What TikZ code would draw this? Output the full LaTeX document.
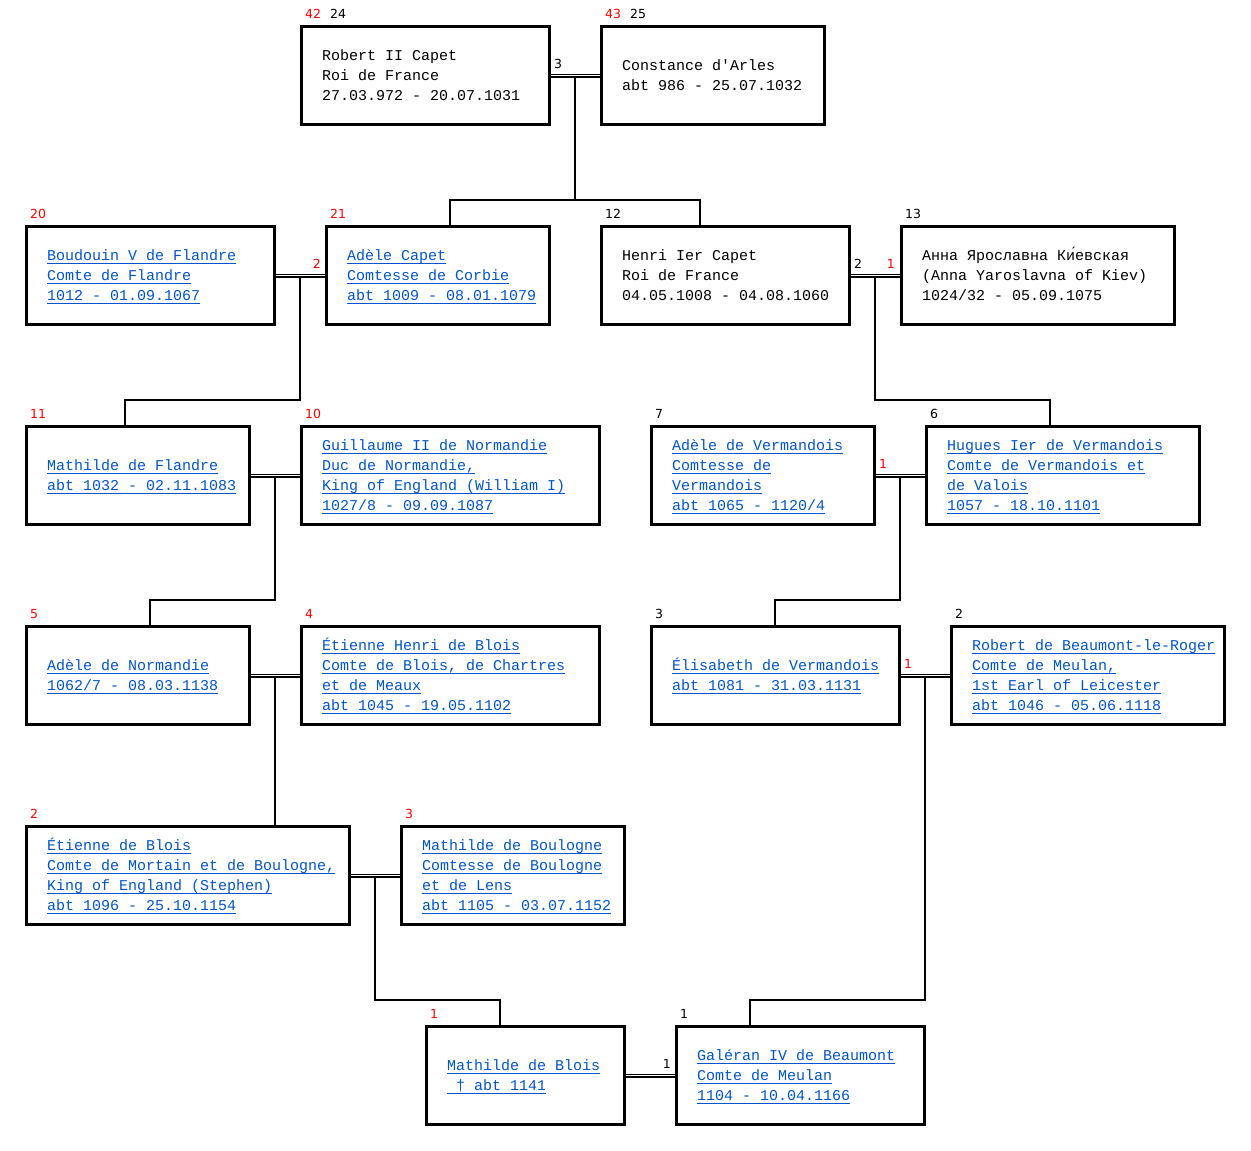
\documentclass[tikz,border=0pt]{standalone}
\usepackage{fontspec}
\usetikzlibrary{calc}
\newfontfamily\pmono{Liberation Mono}[Ligatures=TeXOff]
\newfontfamily\plab{DejaVu Sans}
\definecolor{lnk}{HTML}{0055CC}
\definecolor{lred}{HTML}{FF0000}
\tikzset{
 pbox/.style={draw=black, line width=3pt, inner sep=0pt, outer sep=0pt, rectangle},
 ptxt/.style={font=\pmono\fontsize{15}{18}\selectfont, inner sep=0pt, outer sep=0pt, anchor=base west},
 plink/.style={ptxt, text=lnk},
 ulin/.style={draw=lnk, line width=1.1pt},
 conn/.style={draw=black, line width=2pt},
 dbl/.style={draw=black, line width=1.2pt},
 nlab/.style={font=\plab\fontsize{12.5}{14}\selectfont, inner sep=0pt, anchor=base west},
 nred/.style={nlab, text=lred},
 nblk/.style={nlab, text=black},
}
% person box: name x1 y1 x2 y2
\newcommand\pers[5]{\node[pbox, minimum width=#4-#2-2, minimum height=#5-#3-2] (#1) at ({(#2+#4)/2+0.5},{(#3+#5)/2+0.5}) {};}
% underlined link line
\newcommand\lk[3]{\node[plink] (#1) at (#2) {#3};
 \draw[ulin] ($(#1.base west)+(0,3.2)$) -- ($(#1.base east)+(0,3.2)$);}
% marriage double line between two boxes at height y
\newcommand\marr[3]{\draw[dbl] (#1.east |- 0,#3-0.2) -- (#2.west |- 0,#3-0.2);
 \draw[dbl] (#1.east |- 0,#3+2) -- (#2.west |- 0,#3+2);}
\begin{document}
\begin{tikzpicture}[x=1pt,y=-1pt]
\useasboundingbox (0,0) rectangle (1251,1151);
\fill[white] (0,0) rectangle (1251,1151);

% ---------- Row 0 ----------
\pers{robert}{300}{25}{550}{125}
\node[nred] (robert-a) at (305,18) {42};
\node[nblk] (robert-b) at (330,18) {24};
\node[ptxt] (robert-1) at (322,60.5) {Robert II Capet};
\node[ptxt] (robert-2) at (322,80.5) {Roi de France};
\node[ptxt] (robert-3) at (322,100.5) {27.03.972 - 20.07.1031};

\pers{constance}{600}{25}{825}{125}
\node[nred] (constance-a) at (605,18) {43};
\node[nblk] (constance-b) at (630,18) {25};
\node[ptxt] (constance-1) at (622,70.5) {Constance d'Arles};
\node[ptxt] (constance-2) at (622,90.5) {abt 986 - 25.07.1032};

% ---------- Row 1 ----------
\pers{boudouin}{25}{225}{275}{325}
\node[nred] (boudouin-a) at (30,218) {20};
\lk{boudouin-1}{47,260.5}{Boudouin V de Flandre}
\lk{boudouin-2}{47,280.5}{Comte de Flandre}
\lk{boudouin-3}{47,300.5}{1012 - 01.09.1067}

\pers{adelecapet}{325}{225}{550}{325}
\node[nred] (adelecapet-a) at (330,218) {21};
\lk{adelecapet-1}{347,260.5}{Adèle Capet\ }
\lk{adelecapet-2}{347,280.5}{Comtesse de Corbie}
\lk{adelecapet-3}{347,300.5}{abt 1009 - 08.01.1079}

\pers{henri}{600}{225}{850}{325}
\node[nblk] (henri-a) at (605,218) {12};
\node[ptxt] (henri-1) at (622,260.5) {Henri Ier Capet};
\node[ptxt] (henri-2) at (622,280.5) {Roi de France};
\node[ptxt] (henri-3) at (622,300.5) {04.05.1008 - 04.08.1060};

\pers{anna}{900}{225}{1175}{325}
\node[nblk] (anna-a) at (905,218) {13};
\node[ptxt] (anna-1) at (922,260.5) {Анна Ярославна Ки́евская};
\node[ptxt] (anna-2) at (922,280.5) {(Anna Yaroslavna of Kiev)};
\node[ptxt] (anna-3) at (922,300.5) {1024/32 - 05.09.1075};

% ---------- Row 2 ----------
\pers{mathildef}{25}{425}{250}{525}
\node[nred] (mathildef-a) at (30,418) {11};
\lk{mathildef-1}{47,470.5}{Mathilde de Flandre}
\lk{mathildef-2}{47,490.5}{abt 1032 - 02.11.1083}

\pers{guillaume}{300}{425}{600}{525}
\node[nred] (guillaume-a) at (305,418) {10};
\lk{guillaume-1}{322,450.5}{Guillaume II de Normandie}
\lk{guillaume-2}{322,470.5}{Duc de Normandie,}
\lk{guillaume-3}{322,490.5}{King of England (William I)}
\lk{guillaume-4}{322,510.5}{1027/8 - 09.09.1087}

\pers{adelev}{650}{425}{875}{525}
\node[nblk] (adelev-a) at (655,418) {7};
\lk{adelev-1}{672,450.5}{Adèle de Vermandois\ }
\lk{adelev-2}{672,470.5}{Comtesse de\ }
\lk{adelev-3}{672,490.5}{Vermandois}
\lk{adelev-4}{672,510.5}{abt 1065 - 1120/4}

\pers{hugues}{925}{425}{1200}{525}
\node[nblk] (hugues-a) at (930,418) {6};
\lk{hugues-1}{947,450.5}{Hugues Ier de Vermandois}
\lk{hugues-2}{947,470.5}{Comte de Vermandois et}
\lk{hugues-3}{947,490.5}{de Valois}
\lk{hugues-4}{947,510.5}{1057 - 18.10.1101}

% ---------- Row 3 ----------
\pers{adelen}{25}{625}{250}{725}
\node[nred] (adelen-a) at (30,618) {5};
\lk{adelen-1}{47,670.5}{Adèle de Normandie}
\lk{adelen-2}{47,690.5}{1062/7 - 08.03.1138}

\pers{etiennehenri}{300}{625}{600}{725}
\node[nred] (etiennehenri-a) at (305,618) {4};
\lk{etiennehenri-1}{322,650.5}{Étienne Henri de Blois}
\lk{etiennehenri-2}{322,670.5}{Comte de Blois, de Chartres}
\lk{etiennehenri-3}{322,690.5}{et de Meaux}
\lk{etiennehenri-4}{322,710.5}{abt 1045 - 19.05.1102}

\pers{elisabeth}{650}{625}{900}{725}
\node[nblk] (elisabeth-a) at (655,618) {3};
\lk{elisabeth-1}{672,670.5}{Élisabeth de Vermandois}
\lk{elisabeth-2}{672,690.5}{abt 1081 - 31.03.1131}

\pers{robertb}{950}{625}{1225}{725}
\node[nblk] (robertb-a) at (955,618) {2};
\lk{robertb-1}{972,650.5}{Robert de Beaumont-le-Roger}
\lk{robertb-2}{972,670.5}{Comte de Meulan,}
\lk{robertb-3}{972,690.5}{1st Earl of Leicester}
\lk{robertb-4}{972,710.5}{abt 1046 - 05.06.1118}

% ---------- Row 4 ----------
\pers{etienne}{25}{825}{350}{925}
\node[nred] (etienne-a) at (30,818) {2};
\lk{etienne-1}{47,850.5}{Étienne de Blois}
\lk{etienne-2}{47,870.5}{Comte de Mortain et de Boulogne,}
\lk{etienne-3}{47,890.5}{King of England (Stephen)}
\lk{etienne-4}{47,910.5}{abt 1096 - 25.10.1154}

\pers{mathildeb}{400}{825}{625}{925}
\node[nred] (mathildeb-a) at (405,818) {3};
\lk{mathildeb-1}{422,850.5}{Mathilde de Boulogne}
\lk{mathildeb-2}{422,870.5}{Comtesse de Boulogne}
\lk{mathildeb-3}{422,890.5}{et de Lens}
\lk{mathildeb-4}{422,910.5}{abt 1105 - 03.07.1152}

% ---------- Row 5 ----------
\pers{mathildebl}{425}{1025}{625}{1125}
\node[nred] (mathildebl-a) at (430,1018) {1};
\lk{mathildebl-1}{447,1070.5}{Mathilde de Blois}
\lk{mathildebl-2}{447,1090.5}{\ † abt 1141}

\pers{galeran}{675}{1025}{925}{1125}
\node[nblk] (galeran-a) at (680,1018) {1};
\lk{galeran-1}{697,1060.5}{Galéran IV de Beaumont}
\lk{galeran-2}{697,1080.5}{Comte de Meulan}
\lk{galeran-3}{697,1100.5}{1104 - 10.04.1166}

% ---------- Marriages ----------
\marr{robert}{constance}{75}
\node[nblk] (m1-a) at (554,68) {3};
\marr{boudouin}{adelecapet}{275}
\node[nred, anchor=base east] (m2-a) at (321,268) {2};
\marr{henri}{anna}{275}
\node[nblk] (m3-a) at (854,268) {2};
\node[nred, anchor=base east] (m3-b) at (895,268) {1};
\marr{mathildef}{guillaume}{475}
\marr{adelev}{hugues}{475}
\node[nred] (m5-a) at (879,468) {1};
\marr{adelen}{etiennehenri}{675}
\marr{elisabeth}{robertb}{675}
\node[nred] (m7-a) at (904,668) {1};
\marr{etienne}{mathildeb}{875}
\marr{mathildebl}{galeran}{1075}
\node[nblk, anchor=base east] (m9-a) at (671,1068) {1};

% ---------- Descent lines ----------
\coordinate (mRC) at (575,77);
\coordinate (dAC) at (450,200);
\coordinate (dHE) at (700,200);
\draw[conn] (mRC) -- (mRC |- dAC);
\draw[conn] (dAC |- adelecapet.north) -- (dAC) -- (dHE) -- (dHE |- henri.north);

\coordinate (mBA) at (300,277);
\coordinate (dMF) at (125,400);
\draw[conn] (mBA) |- (dMF) -- (dMF |- mathildef.north);

\coordinate (mHA) at (875,277);
\coordinate (dHU) at (1050,400);
\draw[conn] (mHA) |- (dHU) -- (dHU |- hugues.north);

\coordinate (mMG) at (275,477);
\coordinate (dAN) at (150,600);
\draw[conn] (mMG) |- (dAN) -- (dAN |- adelen.north);

\coordinate (mAH) at (900,477);
\coordinate (dEL) at (775,600);
\draw[conn] (mAH) |- (dEL) -- (dEL |- elisabeth.north);

\coordinate (mAE) at (275,677);
\draw[conn] (mAE) -- (mAE |- etienne.north);

\coordinate (mEM) at (375,877);
\coordinate (dMB) at (500,1000);
\draw[conn] (mEM) |- (dMB) -- (dMB |- mathildebl.north);

\coordinate (mER) at (925,677);
\coordinate (dGA) at (750,1000);
\draw[conn] (mER) |- (dGA) -- (dGA |- galeran.north);
\end{tikzpicture}
\end{document}
